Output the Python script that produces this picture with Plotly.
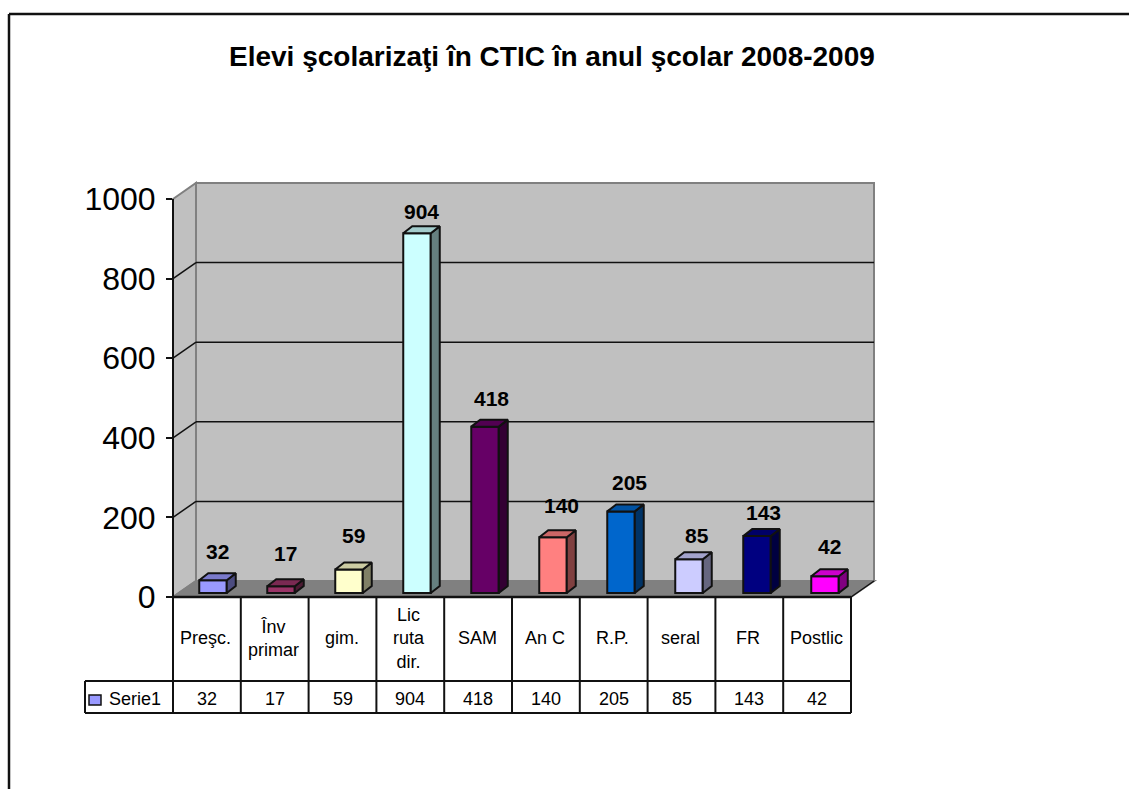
import plotly.graph_objects as go

# ---- data ----
categories = ["Preşc.", "Înv<br>primar", "gim.", "Lic<br>ruta<br>dir.", "SAM", "An C", "R.P.", "seral", "FR", "Postlic"]
values = [32, 17, 59, 904, 418, 140, 205, 85, 143, 42]
series_name = "Serie1"
tick_values = [0, 200, 400, 600, 800, 1000]
title_text = "Elevi şcolarizaţi în CTIC în anul şcolar 2008-2009"
bar_colors = ["#9999FF", "#993366", "#FFFFCC", "#CCFFFF", "#660066", "#FF8080", "#0066CC", "#CCCCFF", "#000080", "#FF00FF"]

# ---- layout geometry (pixels in the 1129x789 page) ----
W, H = 1129, 789
FONT = "Liberation Sans, Arial, sans-serif"
AX_L, AX_R, AX_T, AX_B = 173, 874, 183, 597   # plot box incl. depth
DEPTH_X, DEPTH_Y = 23, 16                     # wall depth
PX_PER_UNIT = 0.398                           # px per value unit
BAR_PITCH, BAR_W, BAR0_CX = 68.0, 27.5, 213.0
BAR_BASE_PX = 593
BAR_DX, BAR_DY = 9, 7
TABLE_R, ROW1, ROW2, LEG_L = 851, 681, 713, 85
LABEL_DX = [4, 4, 4, 4, 6, 8, 8, 8, 6, 4]
LABEL_DY = [29, 33, 34, 22, 28, 32, 29, 24, 24, 30]
LINE = "#111111"
GRAY = "#808080"


def px(x):
    return x / W


def py(y):
    return 1 - y / H


def path(points):
    return "M " + " L ".join(f"{px(a):.5f},{py(b):.5f}" for a, b in points) + " Z"


def shade(col, f):
    r, g, b = int(col[1:3], 16), int(col[3:5], 16), int(col[5:7], 16)
    return f"rgb({r*f:.0f},{g*f:.0f},{b*f:.0f})"


shapes = []


def poly(points, fill, color=GRAY, width=2, layer="below"):
    shapes.append(dict(type="path", xref="paper", yref="paper", path=path(points), fillcolor=fill,
                       line=dict(color=color, width=width), layer=layer))


def seg(x0, y0, x1, y1, color=LINE, width=2, layer="above"):
    shapes.append(dict(type="line", xref="paper", yref="paper", x0=px(x0), y0=py(y0), x1=px(x1), y1=py(y1),
                       line=dict(color=color, width=width), layer=layer))


# outer frame (top and left only)
seg(9, 14, W, 14, width=2.5)
seg(9, 14, 9, H, width=2.5)

# walls and floor
wall_l, back_l, back_r = AX_L, AX_L + DEPTH_X, AX_R
front_top = AX_B - 1000 * PX_PER_UNIT
poly([(back_l, AX_T), (back_r, AX_T), (back_r, AX_B - DEPTH_Y), (back_l, AX_B - DEPTH_Y)], "#C0C0C0")
poly([(wall_l, front_top), (back_l, AX_T), (back_l, AX_B - DEPTH_Y), (wall_l, AX_B)], "#C0C0C0")
poly([(wall_l, AX_B), (back_l, AX_B - DEPTH_Y), (back_r, AX_B - DEPTH_Y), (TABLE_R, AX_B)], "#808080")
seg(TABLE_R, AX_B, back_r, AX_B - DEPTH_Y, width=1.5, layer="below")

# gridlines
for v in tick_values[1:-1]:
    y = AX_B - v * PX_PER_UNIT
    seg(wall_l, y, back_l, y - DEPTH_Y, width=1.5, layer="below")
    seg(back_l, y - DEPTH_Y, back_r, y - DEPTH_Y, width=1.5, layer="below")
# value axis line
seg(wall_l, front_top, wall_l, AX_B, width=2)

# data table grid
n = len(categories)
cell = (TABLE_R - AX_L) / n
seg(AX_L, AX_B, TABLE_R, AX_B, width=2.5)
seg(LEG_L, ROW1, TABLE_R, ROW1)
seg(LEG_L, ROW2, TABLE_R, ROW2)
seg(LEG_L, ROW1, LEG_L, ROW2)
for k in range(n + 1):
    seg(AX_L + k * cell, AX_B, AX_L + k * cell, ROW2)
# legend key
poly([(89, 695), (101, 695), (101, 705), (89, 705)], bar_colors[0], color=LINE, width=1.5, layer="above")

annotations = [dict(text=f"<b>{title_text}</b>", xref="paper", yref="paper", x=px(552), y=py(57), showarrow=False,
                    font=dict(family=FONT, size=28, color="#000"), xanchor="center", yanchor="middle"),
               dict(text=series_name, xref="paper", yref="paper", x=px(107), y=py(699), showarrow=False,
                    font=dict(family=FONT, size=18, color="#000"), xanchor="left", yanchor="middle")]
for k, (c, v) in enumerate(zip(categories, values)):
    cx = AX_L + (k + 0.5) * cell
    annotations.append(dict(text=c, xref="paper", yref="paper", x=px(cx - 1), y=py(638), showarrow=False,
                            font=dict(family=FONT, size=18, color="#000"), xanchor="center", yanchor="middle"))
    annotations.append(dict(text=str(v), xref="paper", yref="paper", x=px(cx), y=py(699), showarrow=False,
                            font=dict(family=FONT, size=18, color="#000"), xanchor="center", yanchor="middle"))
    annotations.append(dict(text=f"<b>{v}</b>", xref="x", yref="y2", x=k, y=v, xshift=LABEL_DX[k], yshift=LABEL_DY[k],
                            showarrow=False, font=dict(family=FONT, size=21, color="#000"),
                            xanchor="center", yanchor="middle"))

# ---- marks ----
fig = go.Figure()
# keeps the value axis (ticks and labels) drawn
fig.add_trace(go.Scatter(x=[0] * len(tick_values), y=tick_values, mode="none", yaxis="y",
                         hoverinfo="skip", showlegend=False))
half = BAR_W / 2 / BAR_PITCH
dx = BAR_DX / BAR_PITCH
dy = BAR_DY / PX_PER_UNIT
for k, (v, col) in enumerate(zip(values, bar_colors)):
    r = k + half
    l = k - half
    # side face
    fig.add_trace(go.Scatter(x=[r, r + dx, r + dx, r, r], y=[0, dy, v + dy, v, 0], mode="lines", fill="toself",
                             fillcolor=shade(col, 0.5), line=dict(color=LINE, width=2), yaxis="y2",
                             hoverinfo="skip", showlegend=False))
    # top face
    fig.add_trace(go.Scatter(x=[l, l + dx, r + dx, r, l], y=[v, v + dy, v + dy, v, v], mode="lines", fill="toself",
                             fillcolor=shade(col, 0.8), line=dict(color=LINE, width=2), yaxis="y2",
                             hoverinfo="skip", showlegend=False))
fig.add_trace(go.Bar(x=list(range(n)), y=values, width=BAR_W / BAR_PITCH, name=series_name, yaxis="y2",
                     marker=dict(color=bar_colors, line=dict(color=LINE, width=2)), showlegend=False))

fig.update_layout(
    width=W, height=H, margin=dict(l=0, r=0, t=0, b=0), paper_bgcolor="#FFFFFF", plot_bgcolor="rgba(0,0,0,0)",
    showlegend=False, shapes=shapes, annotations=annotations, barmode="overlay",
    xaxis=dict(domain=[px(AX_L), px(AX_R)], range=[(AX_L - BAR0_CX) / BAR_PITCH, (AX_R - BAR0_CX) / BAR_PITCH],
               visible=False, fixedrange=True, automargin=False),
    yaxis=dict(domain=[py(AX_B), py(AX_T)], range=[0, (AX_B - AX_T) / PX_PER_UNIT], tickvals=tick_values,
               ticks="outside", ticklen=6, tickwidth=2, tickcolor=LINE, showgrid=False, zeroline=False,
               showline=False, tickfont=dict(family=FONT, size=32, color="#000"), ticklabelstandoff=4,
               fixedrange=True, automargin=False),
    yaxis2=dict(domain=[py(AX_B), py(AX_T)], overlaying="y",
                range=[(BAR_BASE_PX - AX_B) / PX_PER_UNIT, (BAR_BASE_PX - AX_T) / PX_PER_UNIT],
                visible=False, fixedrange=True, automargin=False),
)

fig.write_html("out.html", config=dict(displayModeBar=False),
               post_script="document.body.style.margin='0';document.body.style.overflow='hidden';")
